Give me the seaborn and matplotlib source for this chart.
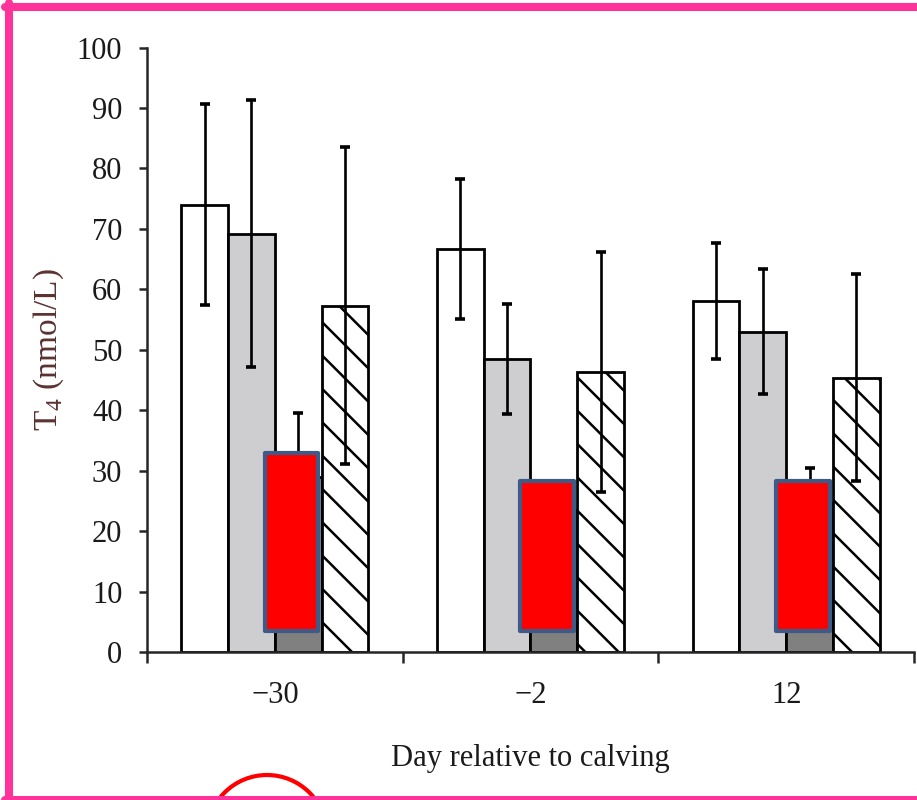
import pandas as pd
import matplotlib.pyplot as plt
import seaborn as sns
from matplotlib.patches import Rectangle, Ellipse
from matplotlib.lines import Line2D
from matplotlib.ticker import FixedLocator

# Values (T4, nmol/L)
days = ["\u221230", "\u22122", "12"]
groups = ["Group A", "Group B", "Group C", "Group D"]

mean_a = [74.0, 66.7, 58.1]
mean_b = [69.2, 48.5, 53.0]
mean_c = [29.0, 23.5, 24.7]
mean_d = [57.3, 46.3, 45.4]

sd_a = [16.6, 11.6, 9.6]
sd_b = [22.1, 9.1, 10.3]
sd_c = [10.5, 4.0, 5.7]
sd_d = [26.2, 19.8, 17.1]

# tops of the red highlight boxes drawn over group C
box_top = [33.0, 28.3, 28.3]

means = [mean_a, mean_b, mean_c, mean_d]
sds = [sd_a, sd_b, sd_c, sd_d]

df = pd.DataFrame({
    "Day": days * 4,
    "Group": [g for g in groups for _ in days],
    "T4": [v for m in means for v in m],
})

sns.set_style("ticks")
plt.rcParams["font.family"] = ["Liberation Serif", "DejaVu Serif"]
plt.rcParams["mathtext.fontset"] = "custom"
plt.rcParams["mathtext.rm"] = "Liberation Serif"
plt.rcParams["hatch.linewidth"] = 1.8

palette = {"Group A": "white", "Group B": "#cdcdd2",
           "Group C": "#808080", "Group D": "white"}

fig = plt.figure(figsize=(9.17, 8.0), dpi=100)
ax = fig.add_axes([0.1603, 0.185, 0.8364, 0.7556])

sns.barplot(data=df, x="Day", y="T4", hue="Group", order=days,
            hue_order=groups, palette=palette, width=0.732,
            errorbar=None, edgecolor="black", linewidth=2,
            legend=False, ax=ax)

# hatched fourth group
for bar in ax.containers[3]:
    bar.set_hatch("\\")

# error bars (mean +/- SD)
for cont, sd in zip(ax.containers, sds):
    xs = [b.get_x() + b.get_width() / 2 for b in cont]
    ys = [b.get_height() for b in cont]
    ax.errorbar(xs, ys, yerr=sd, fmt="none", ecolor="black",
                elinewidth=1.9, capsize=3.4, capthick=2.6, zorder=3)

# red boxes pasted over the dark bars
for bar, top in zip(ax.containers[2], box_top):
    ax.add_patch(Rectangle((bar.get_x() - 0.04, 3.4), 0.21, top - 3.4,
                           facecolor="red", edgecolor="#3d5b86",
                           linewidth=3, joinstyle="round", zorder=4))

ax.set_xlim(-0.5, 2.5)
ax.set_ylim(0, 100)
ax.set_yticks(range(0, 101, 10))
ax.tick_params(axis="y", direction="out", length=5.8, width=1.8, pad=12,
               labelsize=22, labelcolor="#1a1a1a")
ax.tick_params(axis="x", which="major", length=0, pad=21, labelsize=22,
               labelcolor="#1a1a1a")
ax.xaxis.set_minor_locator(FixedLocator([-0.5, 0.5, 1.5, 2.5]))
ax.tick_params(axis="x", which="minor", direction="out", length=8, width=1.8)
sns.despine(ax=ax)
for side in ["left", "bottom"]:
    ax.spines[side].set_linewidth(1.8)

ax.set_xlabel("Day relative to calving", fontsize=22, color="#1a1a1a")
ax.xaxis.set_label_coords(0.5, -0.152)
ax.set_ylabel(r"T$_4$ (nmol/L)", fontsize=24, color="#5b3232")
ax.yaxis.set_label_coords(-0.105, 0.5)

# red circle at the bottom and the pink frame
fig.add_artist(Ellipse((267 / 917, -35 / 800), width=120 / 917,
                       height=120 / 800, transform=fig.transFigure,
                       fill=False, edgecolor="red", linewidth=3, zorder=5))
pink = "#ff3399"
fig.add_artist(Line2D([9 / 917, 9 / 917], [0, 1 - 3 / 800],
                      transform=fig.transFigure, color=pink, linewidth=5.8,
                      zorder=6))
fig.add_artist(Line2D([5 / 917, 1], [1 - 7 / 800, 1 - 7 / 800],
                      transform=fig.transFigure, color=pink, linewidth=5.8,
                      zorder=6))
fig.add_artist(Line2D([5 / 917, 1], [0, 0], transform=fig.transFigure,
                      color=pink, linewidth=5.8, zorder=6))

fig.savefig("out.png", dpi=100)
